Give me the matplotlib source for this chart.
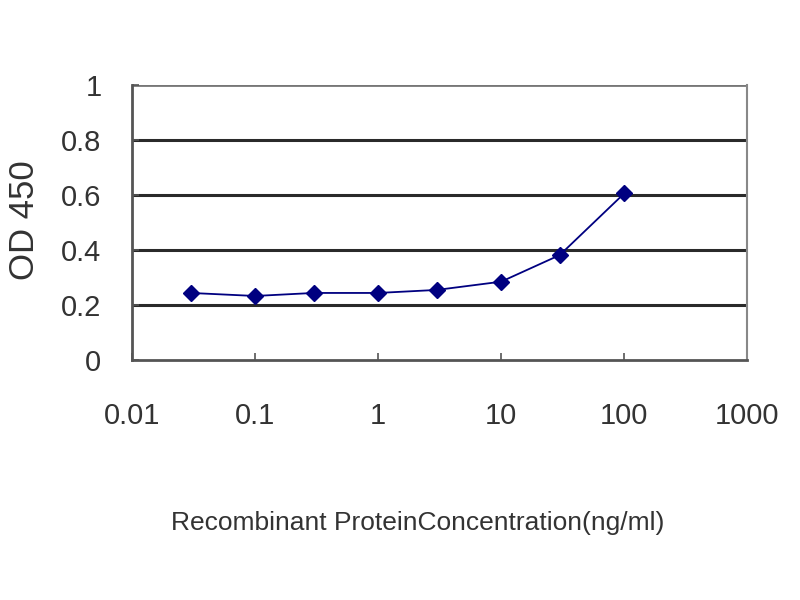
import matplotlib
matplotlib.use("Agg")
import matplotlib.pyplot as plt
from matplotlib.ticker import FixedLocator, FixedFormatter

plt.rcParams["font.family"] = ["Liberation Sans", "DejaVu Sans"]

# data
conc = [0.03, 0.1, 0.3, 1, 3, 10, 30, 100]
od450 = [0.244, 0.233, 0.244, 0.244, 0.255, 0.285, 0.382, 0.606]

x_ticks = [0.01, 0.1, 1, 10, 100, 1000]
x_labels = ["0.01", "0.1", "1", "10", "100", "1000"]
y_ticks = [0, 0.2, 0.4, 0.6, 0.8, 1]
y_labels = ["0", "0.2", "0.4", "0.6", "0.8", "1"]

fig = plt.figure(figsize=(8, 6), dpi=100)
ax = fig.add_axes([0.165, 0.4, 0.769, 0.458])

ax.plot(conc, od450, color="#000080", lw=1.3, marker="D", ms=8,
        mfc="#000080", mec="#000080", zorder=3)

ax.set_xscale("log")
ax.set_xlim(0.01, 1000)
ax.set_ylim(0, 1)
ax.xaxis.set_major_locator(FixedLocator(x_ticks))
ax.xaxis.set_major_formatter(FixedFormatter(x_labels))
ax.xaxis.set_minor_locator(FixedLocator([]))
ax.yaxis.set_major_locator(FixedLocator(y_ticks))
ax.yaxis.set_major_formatter(FixedFormatter(y_labels))

# horizontal grid
for v in y_ticks[1:-1]:
    ax.axhline(v, color="#2a2a2a", lw=2.2, zorder=1)
ax.axhline(y_ticks[-1], color="#777777", lw=2, zorder=1)

for s in ["left", "bottom"]:
    ax.spines[s].set_color("#555555")
    ax.spines[s].set_linewidth(2)
ax.spines["right"].set_color("#888888")
ax.spines["right"].set_linewidth(1.5)
ax.spines["top"].set_visible(False)

ax.tick_params(axis="both", direction="in", length=5, width=1.2,
               color="#555555", labelsize=21, labelcolor="#333333")
ax.tick_params(axis="x", pad=30)
ax.tick_params(axis="y", pad=22)

fig.text(25 / 800, 1 - 220 / 600, "OD 450", rotation=90, ha="center",
         va="center", fontsize=25, color="#333333")
ax.set_xlabel("Recombinant ProteinConcentration(ng/ml)", fontsize=19,
              color="#333333")
ax.xaxis.set_label_coords(0.465, -0.55)

fig.savefig("out.png", dpi=100)
